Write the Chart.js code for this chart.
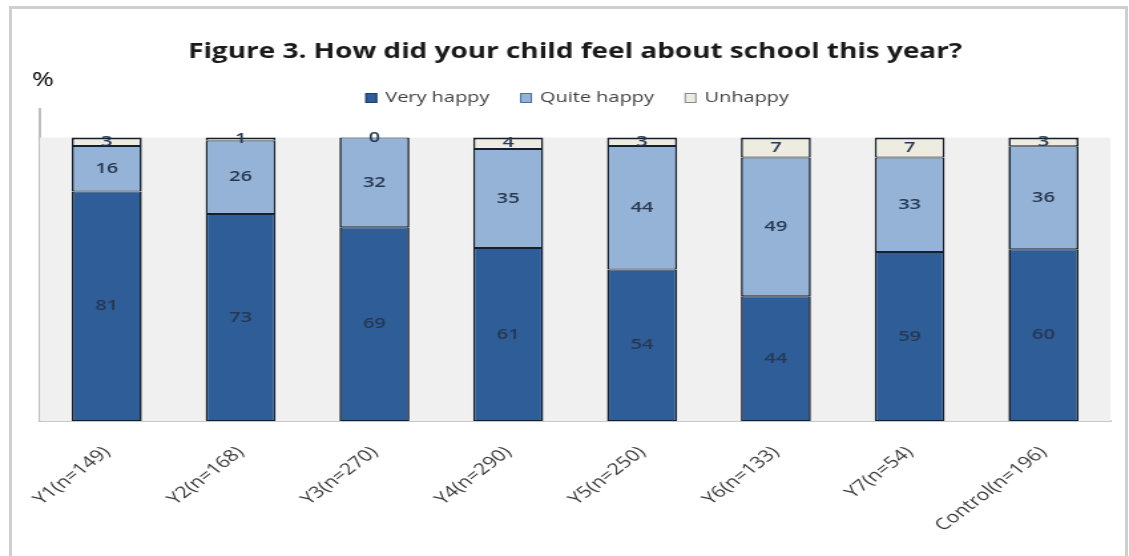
<!DOCTYPE html>
<html lang="en">
<head>
    <meta charset="UTF-8">
    <title>Figure 3</title>
    <style>
        body {
            margin: 0;
            background: #ffffff;
            font-family: "Open Sans", Arial, sans-serif;
            overflow: hidden;
        }
        .frame {
            position: absolute;
            left: 9px;
            top: 6px;
            width: 1113px;
            height: 560px;
            border: 3px solid #cfcfcf;
            border-bottom: none;
        }
        /* the original figure is stretched sideways, so draw narrow and widen */
        .wrap {
            position: absolute;
            left: 0;
            top: 0;
            width: 849px;
            height: 556px;
            transform: scaleX(1.3298);
            transform-origin: 0 0;
        }
    </style>
    <script src="https://cdn.jsdelivr.net/npm/chart.js"></script>
</head>
<body>
    <div class="frame"></div>
    <div class="wrap"><canvas id="chart"></canvas></div>

    <script>
        const groups = ['Y1(n=149)', 'Y2(n=168)', 'Y3(n=270)', 'Y4(n=290)', 'Y5(n=250)', 'Y6(n=133)', 'Y7(n=54)', 'Control(n=196)'];
        const veryHappy = [81, 73, 69, 61, 54, 44, 59, 60];
        const quiteHappy = [16, 26, 32, 35, 44, 49, 33, 36];
        const unhappy = [3, 1, 0, 4, 3, 7, 7, 3];

        // 100% stacked: each bar is scaled to its own total
        const totals = groups.map((g, i) => veryHappy[i] + quiteHappy[i] + unhappy[i]);
        const share = arr => arr.map((v, i) => v / totals[i] * 100);

        const series = [
            { label: 'Very happy', raw: veryHappy, color: '#2f5d98', edge: '#1f3f6a' },
            { label: 'Quite happy', raw: quiteHappy, color: '#95b3d7', edge: '#4f6f9a' },
            { label: 'Unhappy', raw: unhappy, color: '#eeece1', edge: '#8a8a8a' }
        ];

        const plotBackground = {
            id: 'plotBackground',
            beforeDatasetsDraw(chart) {
                const { ctx, chartArea, scales } = chart;
                const top = scales.y.getPixelForValue(100);
                ctx.save();
                ctx.fillStyle = '#f0f0f0';
                ctx.fillRect(chartArea.left, top, chartArea.right - chartArea.left, chartArea.bottom - top);
                ctx.fillStyle = '#000';
                ctx.font = '20px "Open Sans"';
                ctx.textBaseline = 'middle';
                ctx.fillText('%', 24, 80);
                ctx.restore();
            }
        };

        // legend drawn by hand so it can sit close above the plot
        const topLegend = {
            id: 'topLegend',
            afterDraw(chart) {
                const { ctx } = chart;
                const box = 9, gapText = 6, gapItem = 23;
                ctx.save();
                ctx.font = '15px "Open Sans"';
                ctx.textBaseline = 'middle';
                const widths = series.map(s => box + gapText + ctx.measureText(s.label).width);
                const total = widths.reduce((a, b) => a + b, 0) + gapItem * (series.length - 1);
                let x = 434 - total / 2;
                const y = 98;
                series.forEach((s, i) => {
                    ctx.fillStyle = s.color;
                    ctx.fillRect(x, y - 5, box, 10);
                    ctx.strokeStyle = s.edge;
                    ctx.lineWidth = 1;
                    ctx.strokeRect(x + 0.5, y - 4.5, box - 1, 9);
                    ctx.fillStyle = '#404040';
                    ctx.fillText(s.label, x + box + gapText, y);
                    x += widths[i] + gapItem;
                });
                ctx.restore();
            }
        };

        const barLabels = {
            id: 'barLabels',
            afterDatasetsDraw(chart) {
                const { ctx } = chart;
                ctx.save();
                ctx.font = '600 15px "Open Sans"';
                ctx.fillStyle = '#263852';
                ctx.textAlign = 'center';
                ctx.textBaseline = 'middle';
                chart.data.datasets.forEach((ds, di) => {
                    chart.getDatasetMeta(di).data.forEach((bar, i) => {
                        const y = (bar.y + bar.base) / 2;
                        ctx.fillText(String(series[di].raw[i]), bar.x, y);
                    });
                });
                ctx.restore();
            }
        };

        new Chart(document.getElementById('chart').getContext('2d'), {
            type: 'bar',
            data: {
                labels: groups,
                datasets: series.map((s, si) => ({
                    label: s.label,
                    data: share(s.raw),
                    backgroundColor: s.color,
                    borderColor: '#15202e',
                    borderWidth: { left: 1.6, right: 1.6, top: si === series.length - 1 ? 2 : 1, bottom: 1 },
                    borderSkipped: false,
                    categoryPercentage: 1,
                    barPercentage: 0.523
                }))
            },
            options: {
                responsive: true,
                maintainAspectRatio: false,
                animation: false,
                layout: {
                    padding: { left: 30, right: 14, top: 10, bottom: 0 }
                },
                plugins: {
                    title: {
                        display: true,
                        text: 'Figure 3. How did your child feel about school this year?',
                        font: { family: 'Open Sans', size: 21, weight: 'bold' },
                        color: '#1a1a1a',
                        padding: { top: 29, bottom: 45 }
                    },
                    legend: { display: false },
                    tooltip: { enabled: false }
                },
                scales: {
                    x: {
                        stacked: true,
                        grid: { display: false },
                        border: { color: '#c8c8c8', width: 2 },
                        ticks: {
                            maxRotation: 45,
                            minRotation: 45,
                            padding: 14,
                            color: '#3a3a3a',
                            font: { family: 'Open Sans', size: 16 }
                        },
                        afterFit(scale) { scale.height = 135; }
                    },
                    y: {
                        stacked: true,
                        min: 0,
                        max: 110,
                        grid: { display: false },
                        border: { color: '#bdbdbd', width: 2 },
                        ticks: { display: false },
                        afterFit(scale) { scale.width = 0; }
                    }
                }
            },
            plugins: [plotBackground, topLegend, barLabels]
        });
    </script>
</body>
</html>
